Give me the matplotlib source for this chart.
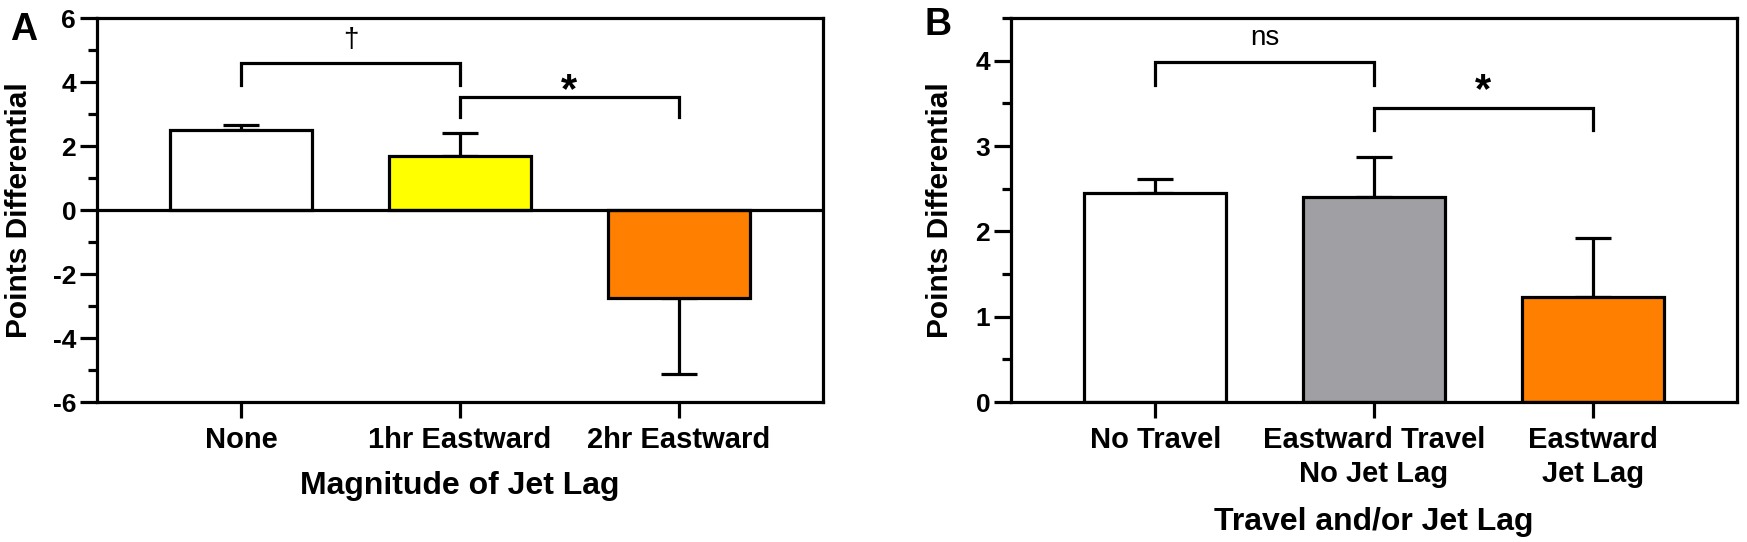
import numpy as np
import matplotlib.pyplot as plt
from matplotlib.ticker import MultipleLocator

plt.rcParams['font.family'] = ['Liberation Sans', 'DejaVu Sans']
plt.rcParams['font.weight'] = 'bold'
plt.rcParams['axes.unicode_minus'] = False

# panel A data
a_labels = ["None", "1hr Eastward", "2hr Eastward"]
a_means = [2.5, 1.68, -2.76]
a_sem = [0.17, 0.74, 2.35]
a_colors = ["white", "#FFFF00", "#FF8000"]
# brackets: (from, to, bar height, leg end, text, text y)
a_brackets = [(0, 1, 4.59, 3.9, "\u2020", 5.3), (1, 2, 3.53, 2.9, "*", 3.73)]

# panel B data
b_labels = ["No Travel", "Eastward Travel\nNo Jet Lag", "Eastward\nJet Lag"]
b_means = [2.45, 2.40, 1.23]
b_sem = [0.16, 0.47, 0.69]
b_colors = ["white", "#A0A0A4", "#FF8000"]
b_brackets = [(0, 1, 3.98, 3.72, "ns", 4.26), (1, 2, 3.45, 3.19, "*", 3.64)]

LW = 2.3


def draw_panel(ax, labels, means, sem, colors, brackets):
    x = np.arange(len(labels))
    means = np.array(means)
    sem = np.array(sem)
    lower = np.where(means < 0, sem, 0)
    upper = np.where(means >= 0, sem, 0)
    ax.errorbar(x, means, yerr=[lower, upper], fmt='none', ecolor='black',
                elinewidth=LW, capsize=13, capthick=LW, zorder=1)
    ax.bar(x, means, width=0.65, color=colors, edgecolor='black',
           linewidth=LW, zorder=2)
    for x0, x1, yb, yl, txt, ty in brackets:
        ax.plot([x0, x0, x1, x1], [yl, yb, yb, yl], color='black',
                lw=LW, solid_joinstyle='miter', zorder=3)
        if txt == "*":
            ax.text((x0 + x1) / 2, ty, txt, ha='center', va='center',
                    fontsize=30, fontweight='bold')
        else:
            ax.text((x0 + x1) / 2, ty, txt, ha='center', va='center',
                    fontsize=20, fontweight='normal')
    ax.set_xticks(x)
    ax.set_xticklabels(labels, linespacing=1.25)
    ax.set_xlim(-0.66, 2.66)
    for s in ax.spines.values():
        s.set_linewidth(LW)
    ax.tick_params(axis='x', length=11.5, width=LW, pad=6, labelsize=21)
    ax.tick_params(axis='y', which='major', length=12, width=LW, pad=3,
                   labelsize=19)
    ax.tick_params(axis='y', which='minor', length=6.5, width=LW)


fig = plt.figure(figsize=(17.47, 5.42), dpi=100)
axA = fig.add_axes([97 / 1747, 140 / 542, 726 / 1747, 384 / 542])
axB = fig.add_axes([1011 / 1747, 140 / 542, 726 / 1747, 384 / 542])

draw_panel(axA, a_labels, a_means, a_sem, a_colors, a_brackets)
axA.axhline(0, color='black', lw=LW, zorder=3)
axA.set_ylim(-6, 6)
axA.yaxis.set_major_locator(MultipleLocator(2))
axA.yaxis.set_minor_locator(MultipleLocator(1))
axA.set_xlabel("Magnitude of Jet Lag", fontsize=23, fontweight='bold',
               labelpad=12)
axA.set_ylabel("Points Differential", fontsize=21.5, fontweight='bold')
axA.yaxis.set_label_coords(-0.088, 0.5)

draw_panel(axB, b_labels, b_means, b_sem, b_colors, b_brackets)
axB.set_ylim(0, 4.5)
axB.yaxis.set_major_locator(MultipleLocator(1))
axB.yaxis.set_minor_locator(MultipleLocator(0.5))
axB.set_xlabel("Travel and/or Jet Lag", fontsize=23, fontweight='bold',
               labelpad=14)
axB.set_ylabel("Points Differential", fontsize=21.5, fontweight='bold')
axB.yaxis.set_label_coords(-0.078, 0.5)

fig.text(10 / 1747, 1 - 12 / 542, "A", ha='left', va='top', fontsize=27,
         fontweight='bold')
fig.text(925 / 1747, 1 - 7 / 542, "B", ha='left', va='top', fontsize=27,
         fontweight='bold')

fig.savefig("out.png", dpi=100)
